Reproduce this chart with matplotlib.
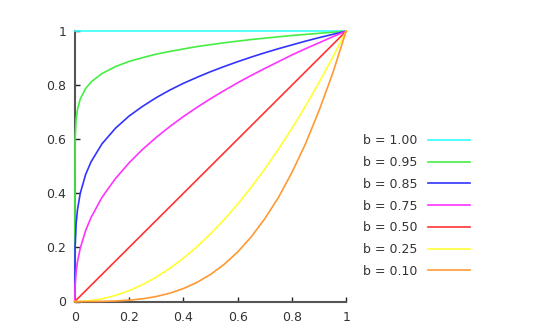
import matplotlib
matplotlib.use("Agg")
import matplotlib.pyplot as plt

plt.rcParams['font.family'] = ['DejaVu Sans']

# x positions where the curves were read
x = [0, 0.001, 0.005, 0.01, 0.02, 0.04, 0.06, 0.1, 0.15, 0.2, 0.25, 0.3, 0.35,
     0.4, 0.45, 0.5, 0.55, 0.6, 0.65, 0.7, 0.75, 0.8, 0.85, 0.9, 0.95, 1.0]

labels = ["b = 1.00", "b = 0.95", "b = 0.85", "b = 0.75",
          "b = 0.50", "b = 0.25", "b = 0.10"]

y_100 = [1.0] * 26
y_095 = [0, 0.600, 0.676, 0.711, 0.749, 0.788, 0.812, 0.843, 0.869, 0.888, 0.902,
         0.915, 0.925, 0.934, 0.943, 0.950, 0.957, 0.963, 0.969, 0.974, 0.979,
         0.984, 0.988, 0.992, 0.996, 1.0]
y_085 = [0, 0.198, 0.289, 0.340, 0.400, 0.470, 0.517, 0.583, 0.641, 0.686, 0.722,
         0.754, 0.782, 0.807, 0.829, 0.850, 0.869, 0.887, 0.904, 0.920, 0.935,
         0.949, 0.963, 0.976, 0.988, 1.0]
y_075 = [0, 0.057, 0.111, 0.148, 0.197, 0.263, 0.311, 0.385, 0.455, 0.513, 0.563,
         0.607, 0.647, 0.684, 0.718, 0.750, 0.780, 0.809, 0.836, 0.862, 0.887,
         0.912, 0.935, 0.957, 0.979, 1.0]
y_050 = [0, 0.001, 0.005, 0.01, 0.02, 0.04, 0.06, 0.1, 0.15, 0.2, 0.25, 0.3, 0.35,
         0.4, 0.45, 0.5, 0.55, 0.6, 0.65, 0.7, 0.75, 0.8, 0.85, 0.9, 0.95, 1.0]
y_025 = [0, 0, 0.00003, 0.0001, 0.0004, 0.0016, 0.0036, 0.01, 0.0225, 0.04, 0.0625,
         0.09, 0.1225, 0.16, 0.2025, 0.25, 0.3025, 0.36, 0.4225, 0.49, 0.5625,
         0.64, 0.7225, 0.81, 0.9025, 1.0]
y_010 = [0, 0, 0, 0, 0, 0, 0.0001, 0.0005, 0.0018, 0.0048, 0.010, 0.0184, 0.0306,
         0.0478, 0.0705, 0.100, 0.137, 0.183, 0.239, 0.306, 0.384, 0.477, 0.583,
         0.706, 0.843, 1.0]

series = [y_100, y_095, y_085, y_075, y_050, y_025, y_010]
colors = ['#33ffff', '#44ee44', '#3333ff', '#ff33ff', '#ff3333', '#ffff33', '#ff9933']

fig = plt.figure(figsize=(5.46, 3.35), dpi=100)
ax = fig.add_axes([0.137, 0.1, 0.497, 0.807])

for ys, c, lab in zip(series, colors, labels):
    ax.plot(x, ys, color=c, lw=1.2, label=lab, clip_on=False, zorder=3)

ax.set_xlim(0, 1)
ax.set_ylim(0, 1)
ticks = [0, 0.2, 0.4, 0.6, 0.8, 1]
ticklabels = ["0", "0.2", "0.4", "0.6", "0.8", "1"]
ax.set_xticks(ticks)
ax.set_xticklabels(ticklabels)
ax.set_yticks(ticks)
ax.set_yticklabels(ticklabels)

for side in ['top', 'right']:
    ax.spines[side].set_visible(False)
for side in ['left', 'bottom']:
    ax.spines[side].set_color('#555555')
    ax.spines[side].set_linewidth(1.5)

ax.tick_params(direction='in', length=3.5, width=1, color='#222222',
               labelsize=9, labelcolor='#333333')
ax.tick_params(axis='x', pad=7)
ax.tick_params(axis='y', pad=6)

leg = ax.legend(loc='center left', bbox_to_anchor=(0.664, 0.385),
                bbox_transform=fig.transFigure, frameon=False,
                markerfirst=False, handlelength=3.3, handletextpad=0.9,
                labelspacing=0.7, borderpad=0, borderaxespad=0,
                fontsize=9)
for t in leg.get_texts():
    t.set_color('#333333')

fig.savefig('out.png', dpi=100)
